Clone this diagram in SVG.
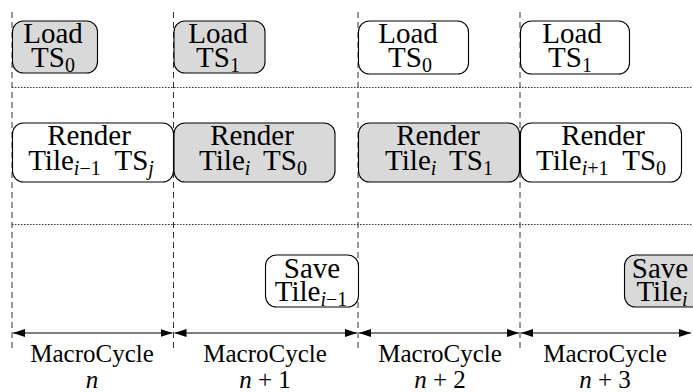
<svg xmlns="http://www.w3.org/2000/svg" width="693" height="392" viewBox="0 0 693 392">
<defs>
<marker id="ah" viewBox="0 0 12 8" refX="12" refY="4" markerWidth="12" markerHeight="8" markerUnits="userSpaceOnUse" orient="auto-start-reverse">
<path d="M0,0 L12,4 L0,8 Z" fill="#000"/>
</marker>
</defs>

<g id="guides" stroke="#333" stroke-width="1" fill="none">
<g stroke-dasharray="6 4">
<line x1="12" y1="12" x2="12" y2="348"/>
<line x1="173.5" y1="12" x2="173.5" y2="348"/>
<line x1="358" y1="12" x2="358" y2="348"/>
<line x1="520" y1="12" x2="520" y2="348"/>
</g>
<g stroke-dasharray="1.5 1.5">
<line x1="12" y1="87.5" x2="693" y2="87.5"/>
<line x1="12" y1="224.5" x2="693" y2="224.5"/>
</g>
</g>

<g font-family="Liberation Serif" font-size="29" text-anchor="middle" fill="#000">
<g id="load1">
<rect x="12.5" y="21" width="85" height="52" rx="11" fill="#d9d9d9" stroke="#000" stroke-width="1.1"/>
<text x="53" y="43">Load</text>
<text x="53" y="67">TS<tspan font-size="20" dy="5">0</tspan></text>
</g>
<g id="load2">
<rect x="174" y="21" width="91" height="52" rx="11" fill="#d9d9d9" stroke="#000" stroke-width="1.1"/>
<text x="218" y="43">Load</text>
<text x="218" y="67">TS<tspan font-size="20" dy="5">1</tspan></text>
</g>
<g id="load3">
<rect x="358.5" y="21" width="110" height="53" rx="11" fill="#fff" stroke="#000" stroke-width="1.1"/>
<text x="408" y="43">Load</text>
<text x="410" y="67">TS<tspan font-size="20" dy="5">0</tspan></text>
</g>
<g id="load4">
<rect x="520.5" y="21" width="109" height="53" rx="11" fill="#fff" stroke="#000" stroke-width="1.1"/>
<text x="572" y="43">Load</text>
<text x="570" y="67">TS<tspan font-size="20" dy="5">1</tspan></text>
</g>

<g id="render1">
<rect x="12.5" y="123" width="161" height="59" rx="11" fill="#fff" stroke="#000" stroke-width="1.1"/>
<text x="89" y="145">Render</text>
<text x="91" y="170">Tile<tspan font-size="20" dy="5"><tspan font-style="italic">i</tspan>−1</tspan><tspan dx="7" dy="-5"> TS</tspan><tspan font-size="20" font-style="italic" dy="5">j</tspan></text>
</g>
<g id="render2">
<rect x="174" y="123" width="161" height="59" rx="11" fill="#d9d9d9" stroke="#000" stroke-width="1.1"/>
<text x="252" y="145">Render</text>
<text x="253" y="170">Tile<tspan font-size="20" font-style="italic" dy="5">i</tspan><tspan dx="6" dy="-5"> TS</tspan><tspan font-size="20" dy="5">0</tspan></text>
</g>
<g id="render3">
<rect x="358.5" y="123" width="161" height="59" rx="11" fill="#d9d9d9" stroke="#000" stroke-width="1.1"/>
<text x="438" y="145">Render</text>
<text x="439" y="170">Tile<tspan font-size="20" font-style="italic" dy="5">i</tspan><tspan dx="6" dy="-5"> TS</tspan><tspan font-size="20" dy="5">1</tspan></text>
</g>
<g id="render4">
<rect x="520.5" y="123" width="161" height="59" rx="11" fill="#fff" stroke="#000" stroke-width="1.1"/>
<text x="603" y="145">Render</text>
<text x="601" y="170">Tile<tspan font-size="20" dy="5"><tspan font-style="italic">i</tspan>+1</tspan><tspan dx="7" dy="-5"> TS</tspan><tspan font-size="20" dy="5">0</tspan></text>
</g>

<g id="save1">
<rect x="265.5" y="255" width="93" height="52" rx="11" fill="#fff" stroke="#000" stroke-width="1.1"/>
<text x="312" y="278">Save</text>
<text x="311" y="301">Tile<tspan font-size="20" dy="5"><tspan font-style="italic">i</tspan>−1</tspan></text>
</g>
<g id="save2">
<rect x="624.5" y="255" width="80" height="52" rx="11" fill="#d9d9d9" stroke="#000" stroke-width="1.1"/>
<text x="660" y="278">Save</text>
<text x="662" y="301">Tile<tspan font-size="20" font-style="italic" dy="5">i</tspan></text>
</g>

<g id="labels" font-size="25">
<text x="92" y="362">MacroCycle</text>
<text x="92" y="388" font-style="italic">n</text>
<text x="265" y="362">MacroCycle</text>
<text x="265" y="388"><tspan font-style="italic">n</tspan> + 1</text>
<text x="440" y="362">MacroCycle</text>
<text x="440" y="388"><tspan font-style="italic">n</tspan> + 2</text>
<text x="605" y="362">MacroCycle</text>
<text x="605" y="388"><tspan font-style="italic">n</tspan> + 3</text>
</g>
</g>

<g id="connectors" stroke="#000" stroke-width="1.2" fill="none" marker-start="url(#ah)" marker-end="url(#ah)">
<line x1="13" y1="333" x2="172.5" y2="333"/>
<line x1="174.5" y1="333" x2="357" y2="333"/>
<line x1="359" y1="333" x2="519" y2="333"/>
<line x1="521" y1="333" x2="691" y2="333"/>
</g>
</svg>
